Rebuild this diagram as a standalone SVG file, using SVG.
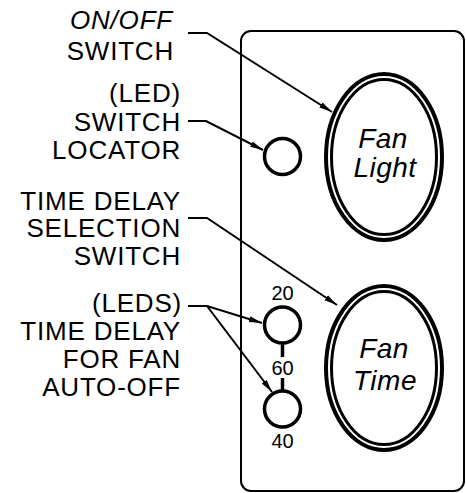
<svg xmlns="http://www.w3.org/2000/svg" width="466" height="493" viewBox="0 0 466 493">
<style>
.lbl{font-family:"Liberation Sans",Arial,sans-serif;font-size:26px;letter-spacing:0.8px;fill:#000;text-anchor:end}
.it{font-style:italic}
.btn{font-family:"Liberation Sans",Arial,sans-serif;font-size:28px;letter-spacing:0.5px;font-style:italic;fill:#000;text-anchor:middle}
.num{font-family:"Liberation Sans",Arial,sans-serif;font-size:20px;fill:#000;text-anchor:middle}
.ln{fill:none;stroke:#000;stroke-width:2}
.led{fill:#fff;stroke:#000;stroke-width:3.5}
.ro{fill:#fff;stroke:#000;stroke-width:4}
.ri{fill:none;stroke:#000;stroke-width:3}
</style>
<defs>
<marker id="ah" markerUnits="userSpaceOnUse" markerWidth="14" markerHeight="8" refX="13" refY="4" orient="auto">
<path d="M0,1 L13,4 L0,7 Z" fill="#000"/>
</marker>
</defs>
<rect x="241" y="31" width="223" height="460" rx="10" class="ln"/>
<g id="labels">
<g id="lbl-onoff"><text class="lbl it" x="173" y="29">ON/OFF</text><text class="lbl" x="174" y="60">SWITCH</text></g>
<g id="lbl-led"><text class="lbl" x="181" y="102">(LED)</text><text class="lbl" x="181" y="131">SWITCH</text><text class="lbl" x="181" y="159">LOCATOR</text></g>
<g id="lbl-time"><text class="lbl" x="181" y="210">TIME DELAY</text><text class="lbl" x="181" y="237">SELECTION</text><text class="lbl" x="181" y="265">SWITCH</text></g>
<g id="lbl-leds"><text class="lbl" x="182" y="312">(LEDS)</text><text class="lbl" x="181" y="340">TIME DELAY</text><text class="lbl" x="181" y="368">FOR FAN</text><text class="lbl" x="181" y="396">AUTO-OFF</text></g>
</g>
<g id="fan-light">
<ellipse cx="384" cy="157" rx="58" ry="83" class="ro"/>
<ellipse cx="384" cy="157" rx="52.5" ry="77.5" class="ri"/>
<text class="btn" x="383" y="148">Fan</text>
<text class="btn" x="385" y="177">Light</text>
</g>
<g id="fan-time">
<ellipse cx="384" cy="368" rx="58" ry="82" class="ro"/>
<ellipse cx="384" cy="368" rx="52.5" ry="76.5" class="ri"/>
<text class="btn" x="384" y="358">Fan</text>
<text class="btn" x="385" y="390">Time</text>
</g>
<g id="led-locator"><circle cx="282.5" cy="156.5" r="18" class="led"/></g>
<g id="led-scale">
<line x1="282.5" y1="342" x2="282.5" y2="357" stroke="#000" stroke-width="3.5"/>
<line x1="282.5" y1="378" x2="282.5" y2="392" stroke="#000" stroke-width="3.5"/>
<text class="num" x="282.5" y="300">20</text>
<text class="num" x="282.5" y="375">60</text>
<text class="num" x="282.5" y="448">40</text>
</g>
<g id="led-20"><circle cx="282.5" cy="325" r="18" class="led"/></g>
<g id="led-40"><circle cx="282.5" cy="409" r="18" class="led"/></g>
<g id="connectors">
<polyline class="ln" points="188,33 207,33 332,112" marker-end="url(#ah)"/>
<polyline class="ln" points="188,121 206,121 263,150" marker-end="url(#ah)"/>
<polyline class="ln" points="188,218 207,218 337,305" marker-end="url(#ah)"/>
<polyline class="ln" points="188,306 207,306 262,323" marker-end="url(#ah)"/>
<polyline class="ln" points="207,306 272,392" marker-end="url(#ah)"/>
</g>
</svg>
